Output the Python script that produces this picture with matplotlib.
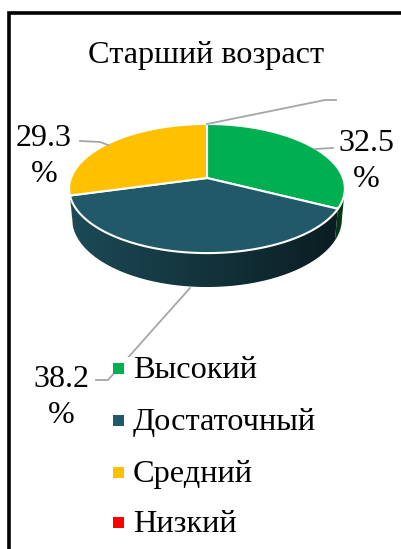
import numpy as np
import matplotlib
matplotlib.use('Agg')
import matplotlib.pyplot as plt
from matplotlib.patches import Polygon, Rectangle
from matplotlib.colors import to_rgb

# ---- data ----
categories = ['Высокий', 'Достаточный', 'Средний', 'Низкий']
values = [32.5, 38.2, 29.3, 0.0]
value_labels = ['32.5\n%', '38.2\n%', '29.3\n%', '']
colors = ['#00B050', '#215968', '#FFC000', '#FF0000']
title = 'Старший возраст'

FONT = 'Liberation Serif'
W, H = 401, 549
fig = plt.figure(figsize=(W / 100, H / 100), dpi=100)
ax = fig.add_axes([0, 0, 1, 1])
ax.set_xlim(0, W)
ax.set_ylim(H, 0)
ax.axis('off')

# ---- 3D perspective projection of a disc ----
cx, cy = 207, 178
f, d = 740.0, 5.44
s = 0.462
c = np.sqrt(1 - s * s)
h = 0.255


def proj(phi, z=0.0):
    x = np.cos(phi)
    yd = np.sin(phi)
    depth = d + yd * c - z * s
    up = z * c + yd * s
    return cx + f * x / depth, cy - f * up / depth


total = float(sum(values))
angles = 360.0 * np.array(values) / total
starts = 90.0 - np.concatenate([[0.0], np.cumsum(angles)[:-1]])
ends = starts - angles

sil = np.degrees(np.arcsin(-c / d))          # right silhouette (~ -9.4)
vis_lo, vis_hi = -180.0 - sil, sil           # visible side range

# sides
for st, en, col in zip(starts, ends, colors):
    lo, hi = max(en, vis_lo), min(st, vis_hi)
    if hi <= lo:
        continue
    ph = np.radians(np.linspace(lo, hi, 80))
    xt, yt = proj(ph, 0.0)
    xb, yb = proj(ph[::-1], -h)
    pts = np.column_stack([np.concatenate([xt, xb]), np.concatenate([yt, yb])])
    poly = Polygon(pts, closed=True, facecolor='none', edgecolor='none')
    ax.add_patch(poly)
    base = np.array(to_rgb(col))
    gx = np.linspace(0, 1, 256)
    fac = 0.85 - 0.55 * gx
    img = np.clip(base[None, None, :] * fac[None, :, None], 0, 1)
    img = np.repeat(img, 2, axis=0)
    im = ax.imshow(img, extent=[60, 350, 300, 150], aspect='auto',
                   interpolation='bilinear', zorder=1)
    im.set_clip_path(poly)

# top face
for st, en, col in zip(starts, ends, colors):
    if en == st:
        continue
    ph = np.radians(np.linspace(st, en, 120))
    xa, ya = proj(ph, 0.0)
    pts = np.column_stack([np.concatenate([[cx], xa]), np.concatenate([[cy], ya])])
    ax.add_patch(Polygon(pts, closed=True, facecolor=col, edgecolor='white',
                         linewidth=1.5, zorder=2, joinstyle='round'))

# ---- leader lines ----
lc = '#A6A6A6'
ax.plot([207, 325, 336], [124, 100, 100], color=lc, lw=1.3, zorder=3)      # zero slice
ax.plot([315, 333], [149, 148], color=lc, lw=1.3, zorder=3)               # 32.5
ax.plot([80, 100, 108], [141, 142, 145], color=lc, lw=1.3, zorder=3)      # 29.3
ax.plot([190, 108, 96], [288, 380, 380], color=lc, lw=1.3, zorder=3)      # 38.2

# ---- value labels (y = baseline of the last line) ----
label_pos = [(366, 187), (61, 423), (44, 182)]
for (x, y), lab in zip(label_pos, value_labels):
    ax.text(x, y, lab, ha='center', va='baseline', multialignment='center',
            fontsize=23, family=FONT, color='black', linespacing=1.32, zorder=6)

# ---- title ----
ax.text(206.5, 63, title, ha='center', va='baseline', fontsize=23.2,
        family=FONT, color='black', zorder=6)

# ---- legend ----
ax.add_patch(Rectangle((114, 357), 300, 200, facecolor='white',
                       edgecolor='none', zorder=4))
leg_base = [378, 430, 482, 532]
for cat, col, yb in zip(categories, colors, leg_base):
    ax.add_patch(Rectangle((113, yb - 15.5), 11, 11, facecolor=col,
                           edgecolor='none', zorder=5))
    ax.text(133, yb, cat, ha='left', va='baseline', fontsize=23.3,
            family=FONT, color='black', zorder=6)

# ---- frame ----
ax.plot([9, 9, W + 5], [H + 5, 12.5, 12.5], color='black', lw=2.6,
        solid_joinstyle='miter', zorder=7, clip_on=False)

fig.savefig('out.png', dpi=100)
